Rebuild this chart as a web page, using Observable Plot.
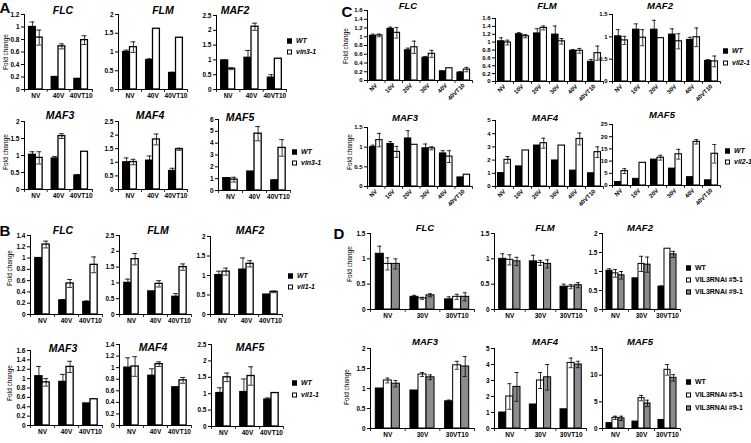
<!DOCTYPE html>
<html><head><meta charset="utf-8">
<script src="https://cdn.jsdelivr.net/npm/d3@7"></script>
<script src="https://cdn.jsdelivr.net/npm/@observablehq/plot@0.6"></script>
<style>
body{margin:0;background:#fff;}
#fig{position:relative;width:751px;height:443px;overflow:hidden;background:#fff;font-family:"Liberation Sans",Arial,sans-serif;color:#000;}
.t{position:absolute;font-weight:bold;font-style:italic;line-height:1;transform:translate(-50%,-50%);white-space:nowrap;}
.L{position:absolute;font-weight:bold;font-size:15px;line-height:1;transform:translate(-50%,-50%);}
.fc{position:absolute;font-size:6.5px;line-height:1;transform:translate(-50%,-50%) rotate(-90deg);white-space:nowrap;}
.lg{position:absolute;font-size:7px;font-weight:bold;line-height:1;white-space:nowrap;transform:translateY(-50%);}
.sw{display:inline-block;width:5px;height:5px;box-sizing:border-box;border:1px solid #000;margin-right:4px;vertical-align:-0.5px;}
</style></head>
<body><div id="fig"></div>
<script>
// ---------- categories & series ----------
const catsAB = ["NV", "40V", "40VT10"];
const catsC = ["NV", "10V", "20V", "30V", "40V", "40VT10"];
const catsD = ["NV", "30V", "30VT10"];
const seriesA = ["WT", "vin3-1"];
const seriesB = ["WT", "vil1-1"];
const seriesC = ["WT", "vil2-1"];
const seriesD = ["WT", "VIL3RNAi #5-1", "VIL3RNAi #9-1"];

// ---------- tick values ----------
const ticks12 = [0, 0.2, 0.4, 0.6, 0.8, 1, 1.2];
const ticks14 = [0, 0.2, 0.4, 0.6, 0.8, 1, 1.2, 1.4];
const ticks16 = [0, 0.2, 0.4, 0.6, 0.8, 1, 1.2, 1.4, 1.6];
const ticks15 = [0, 0.5, 1, 1.5];
const ticks2 = [0, 0.5, 1, 1.5, 2];
const ticks25 = [0, 0.5, 1, 1.5, 2, 2.5];
const ticks5 = [0, 1, 2, 3, 4, 5];
const ticks6 = [0, 1, 2, 3, 4, 5, 6];
const ticks15b = [0, 5, 10, 15];
const ticks25b = [0, 5, 10, 15, 20, 25];

// ---------- Panel A (WT, vin3-1) ----------
const A_FLC = [[1.00, 0.20, 0.17], [0.83, 0.69, 0.79]];
const A_FLC_err = [[0.08, 0, 0], [0.12, 0.04, 0.07]];
const A_FLM = [[1.00, 0.78, 0.44], [1.13, 1.62, 1.38]];
const A_FLM_err = [[0.05, 0.04, 0.02], [0.14, 0, 0]];
const A_MAF2 = [[0.98, 1.07, 0.40], [0.70, 2.12, 1.04]];
const A_MAF2_err = [[0.02, 0.25, 0.10], [0.03, 0.12, 0]];
const A_MAF3 = [[1.02, 0.91, 0.41], [0.93, 1.57, 1.11]];
const A_MAF3_err = [[0.09, 0.06, 0.03], [0.18, 0.07, 0]];
const A_MAF4 = [[1.00, 1.06, 0.68], [1.01, 1.84, 1.48]];
const A_MAF4_err = [[0.16, 0.17, 0.10], [0.10, 0.20, 0.04]];
const A_MAF5 = [[1.04, 1.60, 0.85], [0.92, 4.80, 3.60]];
const A_MAF5_err = [[0.04, 0, 0.04], [0.20, 0.60, 0.70]];

// ---------- Panel B (WT, vil1-1) ----------
const B_FLC = [[1.00, 0.25, 0.22], [1.24, 0.55, 0.88]];
const B_FLC_err = [[0, 0.01, 0.02], [0.06, 0.07, 0.14]];
const B_FLM = [[1.00, 0.73, 0.56], [1.75, 0.97, 1.50]];
const B_FLM_err = [[0.12, 0, 0.10], [0.18, 0.10, 0.10]];
const B_MAF2 = [[1.01, 1.15, 0.51], [1.10, 1.30, 0.58]];
const B_MAF2_err = [[0.10, 0.30, 0], [0.09, 0.08, 0.02]];
const B_MAF3 = [[1.05, 0.93, 0.47], [0.92, 1.25, 0.56]];
const B_MAF3_err = [[0.21, 0.16, 0], [0.08, 0.12, 0]];
const B_MAF4 = [[1.00, 0.86, 0.66], [1.02, 1.06, 0.78]];
const B_MAF4_err = [[0.17, 0.12, 0], [0.17, 0.04, 0.05]];
const B_MAF5 = [[1.02, 1.05, 0.82], [1.50, 1.54, 1.02]];
const B_MAF5_err = [[0.16, 0.40, 0.05], [0.13, 0.28, 0]];

// ---------- Panel C (WT, vil2-1) ----------
const C_FLC = [[1.02, 1.18, 0.69, 0.52, 0.21, 0.18], [1.03, 1.09, 0.76, 0.61, 0.28, 0.25]];
const C_FLC_err = [[0.04, 0.04, 0.05, 0.03, 0, 0.02], [0.03, 0.12, 0.14, 0.08, 0, 0.05]];
const C_FLM = [[1.02, 1.20, 1.22, 1.19, 0.78, 0.50], [0.99, 1.15, 1.36, 1.02, 0.78, 0.72]];
const C_FLM_err = [[0.09, 0.04, 0.12, 0.22, 0.03, 0.06], [0.06, 0.04, 0.05, 0.07, 0.06, 0.18]];
const C_MAF2 = [[1.01, 1.16, 1.16, 1.05, 0.93, 0.46], [0.92, 0.98, 0.97, 0.90, 0.99, 0.45]];
const C_MAF2_err = [[0.15, 0.13, 0.21, 0.13, 0.06, 0.03], [0.09, 0.18, 0, 0.17, 0.21, 0.12]];
const C_MAF3 = [[1.00, 1.08, 1.22, 0.97, 0.84, 0.23], [1.18, 0.88, 1.06, 0.97, 0.76, 0.30]];
const C_MAF3_err = [[0.05, 0.06, 0.20, 0.11, 0.07, 0], [0.17, 0.14, 0, 0.04, 0.15, 0]];
const C_MAF4 = [[1.01, 1.52, 3.10, 1.97, 1.20, 1.00], [2.02, 2.73, 3.28, 3.10, 3.60, 2.60]];
const C_MAF4_err = [[0, 0, 0, 0, 0, 0], [0.25, 0, 0.38, 0, 0.45, 0.40]];
const C_MAF5 = [[1.4, 2.7, 10.6, 6.9, 3.4, 2.1], [5.9, 9.3, 11.4, 12.8, 17.9, 13.0]];
const C_MAF5_err = [[0, 0, 0, 0, 0, 0], [1.0, 0, 1.0, 2.0, 0.9, 3.8]];

// ---------- Panel D (WT, VIL3RNAi #5-1, VIL3RNAi #9-1) ----------
const D_FLC = [[1.10, 0.25, 0.20], [0.90, 0.22, 0.25], [0.90, 0.28, 0.25]];
const D_FLC_err = [[0.15, 0.03, 0.05], [0.12, 0.02, 0.05], [0.10, 0.03, 0.08]];
const D_FLM = [[1.00, 0.95, 0.45], [0.98, 0.92, 0.45], [0.95, 0.90, 0.48]];
const D_FLM_err = [[0.10, 0.12, 0.05], [0.10, 0.05, 0.04], [0.08, 0.08, 0.05]];
const D_MAF2 = [[1.02, 0.82, 0.60], [0.95, 1.20, 1.60], [0.90, 1.18, 1.45]];
const D_MAF2_err = [[0.05, 0, 0.02], [0.10, 0.20, 0], [0.10, 0.20, 0.08]];
const D_MAF3 = [[1.00, 0.95, 0.68], [1.20, 1.35, 1.58], [1.12, 1.28, 1.55]];
const D_MAF3_err = [[0, 0, 0.03], [0.06, 0.05, 0.10], [0.08, 0.06, 0.25]];
const D_MAF4 = [[1.00, 1.50, 1.20], [2.00, 3.00, 4.10], [2.60, 3.20, 4.00]];
const D_MAF4_err = [[0, 0, 0], [0.80, 0.50, 0.30], [0.90, 0.80, 0.20]];
const D_MAF5 = [[1.00, 1.30, 1.60], [2.00, 5.70, 11.00], [1.90, 4.70, 9.50]];
const D_MAF5_err = [[0, 0, 0], [0.30, 0.50, 1.00], [0.40, 0.60, 0.60]];

// ---------- drawing ----------
const fig = document.getElementById("fig");
const FONT = "'Liberation Sans', Arial, sans-serif";
const fills2 = ["#000000", "#ffffff"];
const fills3 = ["#000000", "#ffffff", "#8c8c8c"];

function html(cls, x, y, text, extra) {
  const d = document.createElement("div");
  d.className = cls; d.style.left = x + "px"; d.style.top = y + "px";
  d.textContent = text;
  if (extra) Object.assign(d.style, extra);
  fig.appendChild(d);
}

function chart(cats, series, vals, errs, ticks, box, opts) {
  const [x0, x1, yT, yB] = box;
  const {rotate = false, po = 0.67, cap = 5, sw = 1.2, fills = fills2, fs = 6.5} = opts || {};
  const rows = [];
  series.forEach((s, j) => cats.forEach((c, i) => rows.push({cat: c, ser: s, v: vals[j][i], e: errs[j][i]})));
  const er = rows.filter(d => d.e > 0);
  const mL = 24, mR = 4, mT = 6, mB = rotate ? 26 : 14;
  const fw = (x1 - x0) / cats.length;
  const bw = fw / (series.length + 2 * po);
  const ci = Math.max(0, (bw - cap) / 2);
  const edge = (0.5 + po) * bw;
  const leftB = cats.map(c => ({cat: c, ser: series[0]}));
  const rightB = [{cat: cats[cats.length - 1], ser: series[series.length - 1]}];
  const svg = Plot.plot({
    width: x1 - x0 + mL + mR,
    height: yB - yT + mT + mB,
    marginLeft: mL, marginRight: mR, marginTop: mT, marginBottom: mB,
    style: {fontFamily: FONT, fontSize: fs + "px", fontWeight: "bold", background: "transparent", maxWidth: "none", overflow: "visible", position: "absolute", left: (x0 - mL) + "px", top: (yT - mT) + "px"},
    fx: {domain: cats, padding: 0, round: false, label: null, axis: "bottom", tickSize: 0, tickPadding: rotate ? 4 : 4, tickRotate: rotate ? -45 : 0},
    x: {domain: series, paddingInner: 0, paddingOuter: po, round: false, axis: null},
    y: {domain: [0, ticks[ticks.length - 1]], ticks: ticks, tickSize: 3, tickPadding: 2, label: null, line: true, tickFormat: d => String(d)},
    color: {domain: series, range: fills},
    marks: [
      Plot.barY(rows, {fx: "cat", x: "ser", y: "v", fill: "ser", stroke: "#000", strokeWidth: sw}),
      Plot.ruleX(er, {fx: "cat", x: "ser", y1: d => d.v - d.e, y2: d => d.v + d.e, stroke: "#000", strokeWidth: 0.8}),
      Plot.tickY(er, {fx: "cat", x: "ser", y: d => d.v + d.e, insetLeft: ci, insetRight: ci, stroke: "#000", strokeWidth: 0.8}),
      Plot.tickY(er, {fx: "cat", x: "ser", y: d => d.v - d.e, insetLeft: ci, insetRight: ci, stroke: "#000", strokeWidth: 0.8}),
      Plot.ruleY([0], {stroke: "#000", strokeWidth: 1}),
      Plot.ruleX(leftB, {fx: "cat", x: "ser", y1: 0, y2: 0, insetTop: 3, dx: -edge, stroke: "#000", strokeWidth: 0.8}),
      Plot.ruleX(rightB, {fx: "cat", x: "ser", y1: 0, y2: 0, insetTop: 3, dx: edge, stroke: "#000", strokeWidth: 0.8})
    ]
  });
  fig.appendChild(svg);
}

function legend(x, ys, labels, fills, italic) {
  labels.forEach((lab, i) => {
    const d = document.createElement("div");
    d.className = "lg"; d.style.left = x + "px"; d.style.top = ys[i] + "px";
    if (italic) d.style.fontStyle = "italic";
    const s = document.createElement("span");
    s.className = "sw"; s.style.background = fills[i];
    d.appendChild(s); d.appendChild(document.createTextNode(lab));
    fig.appendChild(d);
  });
}

// Panel A
const oA = {po: 0.67, cap: 5, sw: 1.3};
chart(catsAB, seriesA, A_FLC, A_FLC_err, ticks12, [24, 92, 14, 89], oA);
chart(catsAB, seriesA, A_FLM, A_FLM_err, ticks2, [118, 187, 14, 89], oA);
chart(catsAB, seriesA, A_MAF2, A_MAF2_err, ticks25, [216, 286, 15, 89], oA);
chart(catsAB, seriesA, A_MAF3, A_MAF3_err, ticks2, [24, 92, 121, 189], oA);
chart(catsAB, seriesA, A_MAF4, A_MAF4_err, ticks25, [118, 187, 121, 189], oA);
chart(catsAB, seriesA, A_MAF5, A_MAF5_err, ticks6, [218, 290, 119, 190], oA);
// Panel B
chart(catsAB, seriesB, B_FLC, B_FLC_err, ticks14, [30, 102, 235, 314], oA);
chart(catsAB, seriesB, B_FLM, B_FLM_err, ticks25, [119, 191, 235, 314], oA);
chart(catsAB, seriesB, B_MAF2, B_MAF2_err, ticks2, [210, 282, 236, 314], oA);
chart(catsAB, seriesB, B_MAF3, B_MAF3_err, ticks16, [30, 102, 350, 425], oA);
chart(catsAB, seriesB, B_MAF4, B_MAF4_err, ticks14, [119, 191, 344, 425], oA);
chart(catsAB, seriesB, B_MAF5, B_MAF5_err, ticks25, [211, 283, 344, 426], oA);
// Panel C
const oC = {rotate: true, po: 0.39, cap: 4, sw: 1.1, fs: 6};
chart(catsC, seriesC, C_FLC, C_FLC_err, ticks16, [367, 472, 10, 80], oC);
chart(catsC, seriesC, C_FLM, C_FLM_err, ticks16, [495, 603, 18, 81], oC);
chart(catsC, seriesC, C_MAF2, C_MAF2_err, ticks15, [612, 720, 14, 81], oC);
chart(catsC, seriesC, C_MAF3, C_MAF3_err, ticks15, [367, 472, 127, 186], oC);
chart(catsC, seriesC, C_MAF4, C_MAF4_err, ticks5, [495, 603, 120, 186], oC);
chart(catsC, seriesC, C_MAF5, C_MAF5_err, ticks25b, [612, 720, 124, 185], oC);
// Panel D
const oD = {po: 0.66, cap: 4, sw: 1, fills: fills3};
chart(catsD, seriesD, D_FLC, D_FLC_err, ticks15, [370, 474, 233, 309], oD);
chart(catsD, seriesD, D_FLM, D_FLM_err, ticks15, [494, 586, 233, 309], oD);
chart(catsD, seriesD, D_MAF2, D_MAF2_err, ticks2, [602, 680, 233, 309], oD);
chart(catsD, seriesD, D_MAF3, D_MAF3_err, ticks2, [370, 474, 348, 428], oD);
chart(catsD, seriesD, D_MAF4, D_MAF4_err, ticks5, [494, 586, 348, 428], oD);
chart(catsD, seriesD, D_MAF5, D_MAF5_err, ticks15b, [602, 680, 348, 428], oD);

// Titles
const tAB = {fontSize: "10.5px"}, tCD = {fontSize: "9.5px"};
[["FLC", 63, 10], ["FLM", 163, 10], ["MAF2", 235, 10], ["MAF3", 60, 115], ["MAF4", 150, 115], ["MAF5", 240, 117],
 ["FLC", 63, 230], ["FLM", 158, 230], ["MAF2", 250, 230], ["MAF3", 63, 348], ["MAF4", 153, 347], ["MAF5", 250, 347]]
  .forEach(([t, x, y]) => html("t", x, y, t, tAB));
[["FLC", 408, 6], ["FLM", 547, 6], ["MAF2", 660, 6], ["MAF3", 405, 118], ["MAF4", 545, 118], ["MAF5", 662, 115],
 ["FLC", 425, 228], ["FLM", 545, 228], ["MAF2", 640, 228], ["MAF3", 425, 342], ["MAF4", 545, 342], ["MAF5", 640, 342]]
  .forEach(([t, x, y]) => html("t", x, y, t, tCD));

// Panel letters
[["A", 5, 7], ["B", 5, 230], ["C", 347, 11], ["D", 339, 233]].forEach(([t, x, y]) => html("L", x, y, t));

// Fold change labels
[[6, 52], [6, 152], [10, 268], [10, 383], [346, 46], [350, 152], [350, 264], [347, 387]]
  .forEach(([x, y]) => html("fc", x, y, "Fold change"));

// Legends
legend(287, [40, 51], seriesA, fills2, true);
legend(292, [151, 162], seriesA, fills2, true);
legend(288, [275, 286], seriesB, fills2, true);
legend(292, [382, 394], seriesB, fills2, true);
legend(723, [50, 62], seriesC, fills2, true);
legend(725, [150, 161], seriesC, fills2, true);
legend(686, [267, 279, 291], seriesD, fills3, false);
legend(686, [381, 394, 407], seriesD, fills3, false);
</script>
</body></html>
